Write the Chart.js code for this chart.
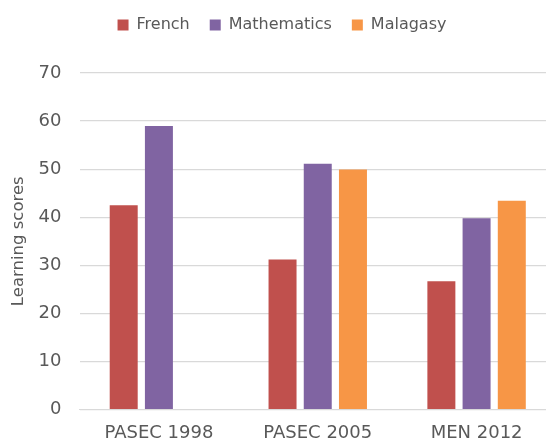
<!DOCTYPE html>
<html>
<head>
<meta charset="utf-8">
<script src="https://cdn.jsdelivr.net/npm/chart.js@4/dist/chart.umd.min.js"></script>
<style>
  html, body { margin: 0; padding: 0; background: #fff; overflow: hidden; }
  #wrap { width: 546px; height: 440px; overflow: hidden; }
</style>
</head>
<body>
<div id="wrap"><canvas id="scores" width="566" height="446"></canvas></div>
<script>
// Learning scores by subject and assessment
const categories = ['PASEC 1998', 'PASEC 2005', 'MEN 2012'];
const french = [42.5, 31.2, 26.7];
const mathematics = [59.0, 51.1, 39.8];
const malagasy = [null, 49.9, 43.4];
const yTicks = [0, 10, 20, 30, 40, 50, 60, 70];

const TEXT = '#595959';
const GRID = '#D9D9D9';
const FONT = "'DejaVu Sans', sans-serif";

// leaves a gap under the legend and nudges the legend row a little
const legendSpacer = {
  id: 'legendSpacer',
  beforeInit(chart) {
    const legend = chart.legend;
    const fit = legend.fit;
    const draw = legend.draw;
    legend.fit = function () {
      fit.call(this);
      this.height += 27;
    };
    legend.draw = function () {
      const ctx = this.ctx;
      ctx.save();
      ctx.translate(4, -3);
      draw.call(this);
      ctx.restore();
    };
  }
};

new Chart(document.getElementById('scores'), {
  type: 'bar',
  data: {
    labels: categories,
    datasets: [
      { label: 'French', data: french, backgroundColor: '#C0504D' },
      { label: 'Mathematics', data: mathematics, backgroundColor: '#8064A2' },
      { label: 'Malagasy', data: malagasy, backgroundColor: '#F79646' }
    ]
  },
  options: {
    responsive: false,
    animation: false,
    categoryPercentage: 0.665,
    barPercentage: 0.795,
    layout: { padding: { top: 0, right: 10, left: 0, bottom: 0 } },
    plugins: {
      legend: {
        position: 'top',
        labels: {
          color: TEXT,
          font: { family: FONT, size: 16 },
          boxWidth: 11,
          boxHeight: 11,
          padding: 20
        }
      },
      tooltip: { enabled: false }
    },
    scales: {
      x: {
        grid: { display: false, drawTicks: false },
        border: { display: true, color: GRID, width: 1 },
        ticks: { color: TEXT, font: { family: FONT, size: 18 }, padding: 13 },
        afterFit(scale) { scale.height = 36.5; }
      },
      y: {
        min: 0,
        max: 70,
        afterBuildTicks(scale) { scale.ticks = yTicks.map(v => ({ value: v })); },
        grid: { color: GRID, lineWidth: 1.2, drawTicks: false },
        border: { display: false },
        ticks: { color: TEXT, font: { family: FONT, size: 18 }, padding: 18 },
        title: {
          display: true,
          text: 'Learning scores',
          color: TEXT,
          font: { family: FONT, size: 16.5 },
          padding: { top: 9, bottom: 0 }
        },
        afterFit(scale) { scale.width = 79.5; }
      }
    }
  },
  plugins: [legendSpacer]
});
</script>
</body>
</html>
